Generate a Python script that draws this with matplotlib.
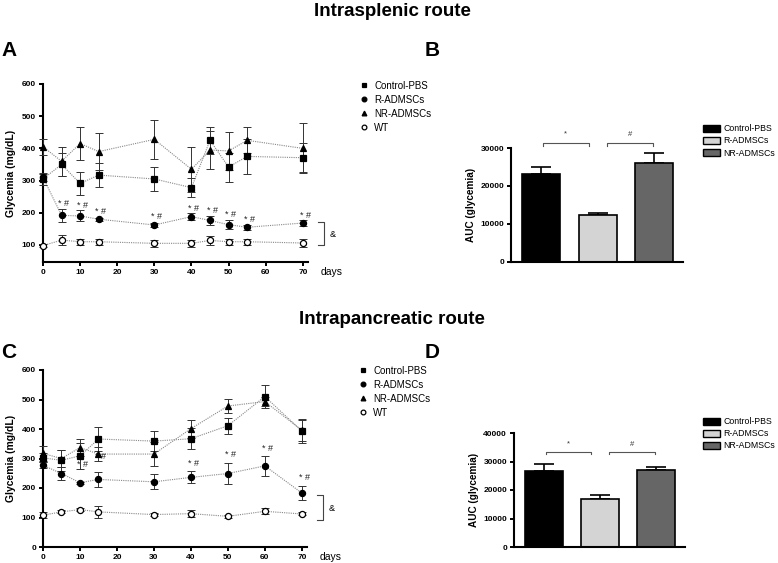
import matplotlib
matplotlib.use("Agg")
import matplotlib.pyplot as plt
from matplotlib.lines import Line2D
from matplotlib.patches import Patch

plt.rcParams['font.family'] = ['Liberation Sans', 'DejaVu Sans']

# ---- data: intrasplenic route (panel A) ----
days_a = [0, 5, 10, 15, 30, 40, 45, 50, 55, 70]
ctrl_a = [305, 350, 291, 317, 305, 278, 425, 342, 375, 371]
ctrl_a_err = [20, 35, 36, 38, 38, 30, 42, 45, 55, 45]
radm_a = [310, 192, 190, 180, 162, 188, 176, 163, 155, 168]
radm_a_err = [10, 20, 17, 5, 5, 12, 15, 15, 8, 8]
nradm_a = [405, 360, 415, 390, 428, 335, 395, 392, 425, 400]
nradm_a_err = [25, 45, 50, 57, 60, 70, 60, 60, 40, 78]
wt_a = [98, 115, 110, 110, 105, 105, 114, 110, 110, 106]
wt_a_err = [5, 15, 10, 10, 10, 10, 15, 10, 10, 12]
sig_days_a = [5, 10, 15, 30, 40, 45, 50, 55, 70]
sig_y_a = [230, 223, 203, 187, 213, 208, 196, 179, 192]

# ---- data: intrapancreatic route (panel C) ----
days_c = [0, 5, 10, 15, 30, 40, 50, 60, 70]
ctrl_c = [302, 294, 309, 366, 359, 367, 411, 510, 393]
ctrl_c_err = [15, 35, 45, 40, 35, 35, 27, 38, 40]
radm_c = [277, 249, 218, 229, 221, 236, 249, 275, 183]
radm_c_err = [10, 22, 3, 25, 25, 20, 36, 35, 25]
nradm_c = [317, 300, 337, 315, 315, 401, 478, 493, 396]
nradm_c_err = [25, 30, 30, 25, 40, 30, 25, 15, 35]
wt_c = [108, 119, 127, 119, 110, 113, 104, 121, 112]
wt_c_err = [10, 5, 5, 20, 5, 12, 5, 10, 5]
sig_days_c = [10, 15, 40, 50, 60, 70]
sig_y_c = [279, 306, 282, 313, 333, 235]

# ---- AUC bars (panels B and D) ----
groups = ['Control-PBS', 'R-ADMSCs', 'NR-ADMSCs']
bar_colors = ['black', '#d4d4d4', '#666666']
auc_b = [23200, 12400, 26100]
auc_b_err = [1800, 400, 2600]
auc_d = [26800, 16700, 27000]
auc_d_err = [2300, 1400, 1200]

W, H = 778, 563
fig = plt.figure(figsize=(W / 100, H / 100), dpi=100)
title_font = ['Liberation Sans Narrow', 'Liberation Sans', 'DejaVu Sans']


def px_axes(x0, x1, ytop, ybot):
    return fig.add_axes([x0 / W, 1 - ybot / H, (x1 - x0) / W, (ybot - ytop) / H])


def style_axes(ax):
    for s in ['top', 'right']:
        ax.spines[s].set_visible(False)
    for s in ['left', 'bottom']:
        ax.spines[s].set_linewidth(1.5)
    ax.tick_params(width=1.4, length=3, labelsize=6, pad=2)
    for lab in ax.get_xticklabels() + ax.get_yticklabels():
        lab.set_fontweight('bold')


def glycemia_panel(ax, days, series, sig_days, sig_y, ylim, yticks, bracket, amp_y):
    markers = [('s', 'black', 5.0), ('o', 'black', 4.4), ('^', 'black', 4.6), ('o', 'white', 4.4)]
    labels = ['Control-PBS', 'R-ADMSCs', 'NR-ADMSCs', 'WT']
    handles = []
    for (vals, errs), (m, fc, ms), lab in zip(series, markers, labels):
        ax.plot(days, vals, linestyle=(0, (1, 1)), color='#888888', lw=0.8, zorder=2, clip_on=False)
        ax.errorbar(days, vals, yerr=errs, fmt='none', ecolor='#333333', elinewidth=0.7,
                    capsize=2.8, capthick=0.7, zorder=3, clip_on=False)
        ax.plot(days, vals, linestyle='none', marker=m, ms=ms, mfc=fc, mec='black', mew=0.9,
                zorder=4, clip_on=False)
        handles.append(Line2D([], [], linestyle='none', marker=m, ms=3.4, mfc=fc, mec='black', mew=0.9,
                              label=lab))
    for d, y in zip(sig_days, sig_y):
        ax.text(d + 0.6, y, '* #', fontsize=6.5, ha='center', va='center', color='#222222')
    ax.set_xlim(0, 71.4)
    ax.set_ylim(*ylim)
    ax.set_xticks([0, 10, 20, 30, 40, 50, 60, 70])
    ax.set_yticks(yticks)
    ax.set_ylabel('Glycemia (mg/dL)', fontsize=7.5, fontweight='bold', labelpad=4)
    style_axes(ax)
    # bracket linking R-ADMSCs and WT
    y0, y1 = bracket
    ax.plot([74.2, 75.8, 75.8, 74.2], [y1, y1, y0, y0], color='#444444', lw=0.8, clip_on=False)
    ax.text(78, amp_y, '&', fontsize=6.5, ha='center', va='center')
    ax.text(74.8, ylim[0] - (ylim[1] - ylim[0]) * 0.055, 'days', fontsize=7.5, ha='left', va='center')
    return handles


def auc_panel(ax, vals, errs, ymax, yticks, br_y, txt_y):
    pos = [0, 1, 2]
    ax.bar(pos, vals, width=0.67, color=bar_colors, edgecolor='black', linewidth=1.2, zorder=2)
    ax.errorbar(pos, vals, yerr=[[0, 0, 0], errs], fmt='none', ecolor='black', elinewidth=1.2,
                capsize=7, capthick=1.2, zorder=1)
    ax.set_xlim(-0.53, 2.51)
    ax.set_ylim(0, ymax)
    ax.set_xticks([])
    ax.set_yticks(yticks)
    ax.set_ylabel('AUC (glycemia)', fontsize=7.2, fontweight='bold', labelpad=3)
    style_axes(ax)
    drop = ymax * 0.025
    for (xa, xb), sym in zip([(0.04, 0.84), (1.16, 1.98)], ['*', '#']):
        ax.plot([xa, xa, xb, xb], [br_y - drop, br_y, br_y, br_y - drop], color='#555555', lw=0.8,
                clip_on=False)
        ax.text((xa + xb) / 2, txt_y, sym, fontsize=5.5, ha='center', va='center', color='#333333')
    handles = [Patch(facecolor=c, edgecolor='black', linewidth=1.0, label=g)
               for c, g in zip(bar_colors, groups)]
    return handles


# Panel A
axA = px_axes(43, 308, 84, 262)
hA = glycemia_panel(axA, days_a,
                    [(ctrl_a, ctrl_a_err), (radm_a, radm_a_err), (nradm_a, nradm_a_err), (wt_a, wt_a_err)],
                    sig_days_a, sig_y_a, (47, 600), [100, 200, 300, 400, 500, 600], (100, 171), 131)
axA.legend(handles=hA, loc='upper left', bbox_to_anchor=(354 / W, 1 - 76 / H),
           bbox_transform=fig.transFigure, frameon=False, fontsize=7, handlelength=1.0,
           handletextpad=0.6, labelspacing=0.4, borderpad=0)

# Panel C
axC = px_axes(43, 307, 370, 547)
hC = glycemia_panel(axC, days_c,
                    [(ctrl_c, ctrl_c_err), (radm_c, radm_c_err), (nradm_c, nradm_c_err), (wt_c, wt_c_err)],
                    sig_days_c, sig_y_c, (0, 600), [0, 100, 200, 300, 400, 500, 600], (92, 177), 129)
axC.legend(handles=hC, loc='upper left', bbox_to_anchor=(353 / W, 1 - 361 / H),
           bbox_transform=fig.transFigure, frameon=False, fontsize=7, handlelength=1.0,
           handletextpad=0.6, labelspacing=0.4, borderpad=0)

# Panel B
axB = px_axes(511, 683, 148, 262)
hB = auc_panel(axB, auc_b, auc_b_err, 30000, [0, 10000, 20000, 30000], 31200, 33600)
axB.legend(handles=hB, loc='upper left', bbox_to_anchor=(699 / W, 1 - 120 / H),
           bbox_transform=fig.transFigure, frameon=False, fontsize=6.3, handlelength=1.9,
           handleheight=0.95, handletextpad=0.35, labelspacing=0.35, borderpad=0)

# Panel D
axD = px_axes(514, 685, 433, 547)
hD = auc_panel(axD, auc_d, auc_d_err, 40000, [0, 10000, 20000, 30000, 40000], 33500, 36100)
axD.legend(handles=hD, loc='upper left', bbox_to_anchor=(699 / W, 1 - 413 / H),
           bbox_transform=fig.transFigure, frameon=False, fontsize=6.3, handlelength=1.9,
           handleheight=0.95, handletextpad=0.35, labelspacing=0.35, borderpad=0)

# Titles and panel letters
fig.text(392 / W, 1 - 11 / H, 'Intrasplenic route', fontsize=13.5, fontweight='bold',
         family=title_font, ha='center', va='center')
fig.text(392 / W, 1 - 319 / H, 'Intrapancreatic route', fontsize=13.5, fontweight='bold',
         family=title_font, ha='center', va='center')
for lab, x, y in [('A', 9, 50), ('B', 432, 50), ('C', 9, 353), ('D', 432, 353)]:
    fig.text(x / W, 1 - y / H, lab, fontsize=15, fontweight='bold', ha='center', va='center')

fig.savefig('out.png', dpi=100)
